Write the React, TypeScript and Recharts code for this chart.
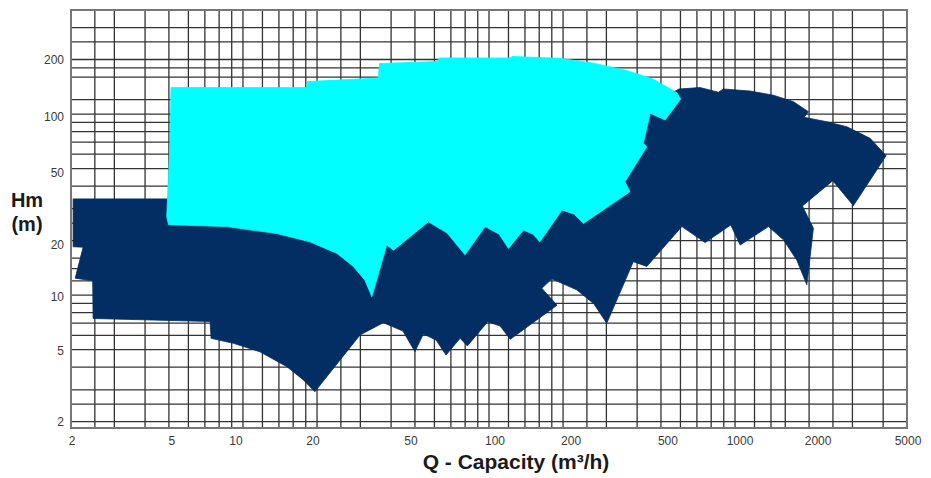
import { ComposedChart, Scatter, XAxis, YAxis, CartesianGrid, ReferenceArea, Label } from "recharts"

const NAVY = "#022e63"
const CYAN = "#00ffff"
const INK = "#1a1a1a"
const TICK = "#3a3a3a"
const FONT = "'Liberation Sans', Arial, sans-serif"

// outline of the dark (large) range, walked clockwise, Q in m3/h and Hm in m
const navyQ = [2.04, 4.95, 5.45, 43.5, 283, 496, 592, 721, 856, 897, 1151, 1432, 1728, 1987, 1909, 2360, 2846, 3541, 4112, 3027, 2496, 1879, 2082, 1958, 1783, 1573, 1367, 1049, 961, 756, 608, 438, 386, 301, 266, 227, 180, 164, 189, 122, 111, 98.8, 81.7, 76.3, 66.9, 60.9, 54.1, 50, 44.7, 37.2, 29.9, 19.6, 17.6, 15.1, 11.7, 9.14, 7.42, 7.35, 2.46, 2.45, 2.08, 2.24, 2.04]
const navyH = [34, 34, 63, 120, 120, 120, 137.5, 140, 132, 137.5, 134, 127, 117, 103, 95.9, 90.7, 85.1, 73.4, 58.9, 31.2, 42.8, 31.1, 23.4, 11.4, 15.6, 20.2, 23.9, 18.9, 24.4, 19.5, 23.9, 14.4, 15.3, 6.99, 9.0, 10.7, 12.3, 10.9, 8.8, 5.7, 6.75, 7.13, 5.24, 5.77, 4.67, 5.65, 6.1, 4.87, 6.33, 7.04, 6.02, 2.93, 3.4, 4.02, 4.87, 5.42, 5.77, 7.15, 7.43, 12.0, 12.4, 18.4, 18.5]

// outline of the light (small) range
const cyanQ = [5.1, 18.2, 18.2, 35.5, 35.9, 61.5, 62.6, 122, 124, 194, 266, 363, 464, 529, 581, 601, 520, 452, 424, 438, 357, 374, 242, 222, 198, 161, 151, 138, 120, 110, 96.4, 79.9, 67.6, 56.7, 40.9, 38.4, 33.4, 31.3, 28.1, 24.1, 18.7, 13.7, 8.59, 4.98, 4.9, 4.93, 5.05]
const cyanH = [140, 140, 151, 158, 190, 195, 204, 204, 208, 203, 191, 174, 156, 141, 131, 121, 92.7, 101, 68.9, 66, 42.3, 37.2, 24.9, 28, 29.5, 19.7, 21.7, 22.9, 18.1, 21.7, 23.9, 16.7, 22, 25.4, 17.7, 18.9, 9.8, 12.1, 14.4, 17, 19.7, 21.9, 23.9, 24.5, 27.1, 33.5, 69.2]

const gridQ = [2, 2.5, 3, 4, 5, 6, 7, 8, 9, 10, 12, 14, 16, 18, 20, 25, 30, 40, 50, 60, 70, 80, 90, 100, 120, 140, 160, 180, 200, 250, 300, 400, 500, 600, 700, 800, 900, 1000, 1200, 1400, 1600, 2000, 2500, 3000, 4000, 5000]
const gridH = [2, 2.5, 3, 4, 5, 6, 7, 8, 9, 10, 12, 14, 16, 20, 25, 30, 40, 50, 60, 70, 80, 90, 100, 120, 160, 180, 200, 250, 300]
const labelQ = [2, 5, 10, 20, 50, 100, 200, 500, 1000, 2000, 5000]
const labelH = [2, 5, 10, 20, 50, 100, 200]

// the printed labels sit a little off their grid lines in the original
const qNudge: Record<number, number> = { 2: 1, 5: 3, 10: -7, 20: -4, 50: -4, 100: 6, 200: 8, 500: 7, 1000: 5, 2000: 9, 5000: 1 }
const hNudge: Record<number, number> = { 200: 0, 100: 3, 50: 4, 20: 4, 10: 2, 5: 1, 2: 0 }

const navy = navyQ.map((q, i) => ({ q, h: navyH[i] }))
const cyan = cyanQ.map((q, i) => ({ q, h: cyanH[i] }))

const filled = (color: string) => (p: any) => {
  const pts = p.points ?? []
  if (!pts.length) return <g />
  const d = pts.map((pt: any, i: number) => `${i ? "L" : "M"}${pt.x},${pt.y}`).join("") + "Z"
  return <path d={d} fill={color} stroke={color} strokeWidth={0.8} strokeLinejoin="round" />
}

function QTick({ x, y, payload }: any) {
  const v = payload?.value
  if (!labelQ.includes(v)) return <g />
  return (
    <text x={x + (qNudge[v] ?? 0)} y={y + 17} textAnchor="middle" fontSize={12} fill={TICK} fontFamily={FONT}>
      {v}
    </text>
  )
}

function HTick({ x, y, payload }: any) {
  const v = payload?.value
  if (!labelH.includes(v)) return <g />
  return (
    <text x={x - 7} y={y + 4 + (hNudge[v] ?? 0)} textAnchor="end" fontSize={12} fill={TICK} fontFamily={FONT}>
      {v}
    </text>
  )
}

const hmTitle = () => (
  <g fontFamily={FONT} fontWeight="bold" fontSize={20} fill={INK}>
    <text x={19} y={199} textAnchor="middle">Hm</text>
    <text x={19} y={223} textAnchor="middle">(m)</text>
  </g>
)

const qTitle = () => (
  <text x={508} y={461} textAnchor="middle" fontFamily={FONT} fontWeight="bold" fontSize={21} fill={INK}>
    Q - Capacity (m³/h)
  </text>
)

export default function App() {
  return (
    <div style={{ width: 923, height: 470, background: "#fff" }}>
      <style>{"body{overflow:hidden}"}</style>
      <ComposedChart width={923} height={470} margin={{ top: 2, right: 24, bottom: 0, left: 0 }}>
        <CartesianGrid stroke="#333" strokeWidth={1.3} />
        <XAxis
          dataKey="q"
          type="number"
          scale="log"
          domain={[2, 5000]}
          allowDataOverflow
          ticks={gridQ}
          interval={0}
          tick={<QTick />}
          tickSize={0}
          tickMargin={0}
          axisLine={false}
          height={50}
        >
          <Label content={qTitle} />
        </XAxis>
        <YAxis
          dataKey="h"
          type="number"
          scale="log"
          domain={[1.846, 375.4]}
          allowDataOverflow
          ticks={gridH}
          interval={0}
          tick={<HTick />}
          tickSize={0}
          tickMargin={0}
          axisLine={false}
          width={63}
        >
          <Label content={hmTitle} />
        </YAxis>

        <Scatter
          data={navy}
          line={filled(NAVY)}
          lineType="joint"
          shape={() => <g />}
          isAnimationActive={false}
        />
        <Scatter
          data={cyan}
          line={filled(CYAN)}
          lineType="joint"
          shape={() => <g />}
          isAnimationActive={false}
        />

        <ReferenceArea x1={2} x2={5000} y1={1.846} y2={375.4} fill="none" stroke="#777" strokeWidth={2} />
      </ComposedChart>
    </div>
  )
}
